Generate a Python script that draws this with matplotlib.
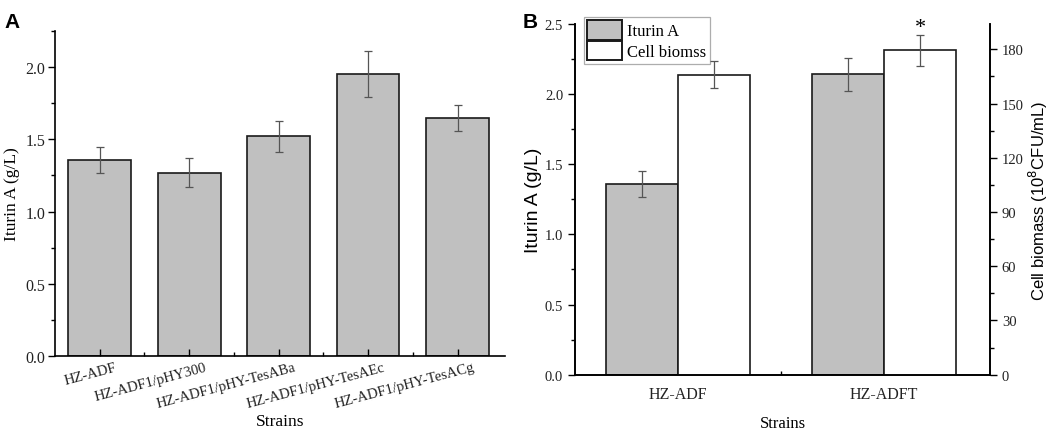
import matplotlib
matplotlib.use("Agg")
import matplotlib.pyplot as plt
import matplotlib.transforms as mtransforms
from matplotlib.ticker import MultipleLocator, FixedLocator
from matplotlib.patches import Patch
import numpy as np

# ---- data ----
strains_a = ["HZ-ADF", "HZ-ADF1/pHY300", "HZ-ADF1/pHY-TesABa",
             "HZ-ADF1/pHY-TesAEc", "HZ-ADF1/pHY-TesACg"]
iturin_a = [1.36, 1.27, 1.52, 1.95, 1.65]
iturin_a_err = [0.09, 0.10, 0.11, 0.16, 0.09]

strains_b = ["HZ-ADF", "HZ-ADFT"]
iturin_b = [1.36, 2.14]
iturin_b_err = [0.09, 0.12]
biomass_b = [166, 179.5]
biomass_b_err = [7.5, 8.5]

SERIF = "Liberation Serif"
SANS = "Liberation Sans"
GRAY = "#c0c0c0"

fig = plt.figure(figsize=(10.52, 4.31), dpi=100)

# ---------------- Panel A ----------------
axA = fig.add_axes([0.0523, 0.1717, 0.4277, 0.7541])
xa = np.arange(len(strains_a))
axA.bar(xa, iturin_a, width=0.7, color=GRAY, edgecolor="#1a1a1a", linewidth=1.2,
        yerr=iturin_a_err, error_kw=dict(ecolor="#555555", elinewidth=0.9, capsize=3, capthick=0.9))
axA.set_xlim(-0.5, 4.53)
axA.set_ylim(0, 2.25)
axA.spines["top"].set_visible(False)
axA.spines["right"].set_visible(False)
for s in axA.spines.values():
    s.set_linewidth(1.2)
axA.yaxis.set_major_locator(MultipleLocator(0.5))
axA.yaxis.set_minor_locator(MultipleLocator(0.25))
axA.yaxis.set_major_formatter(matplotlib.ticker.FormatStrFormatter("%.1f"))
axA.tick_params(axis="y", which="major", direction="out", length=5, width=1.0,
                labelsize=11.5, labelcolor="#222222", pad=2)
axA.tick_params(axis="y", which="minor", direction="out", length=3, width=1.0)
axA.set_xticks(xa)
axA.xaxis.set_minor_locator(FixedLocator(xa[:-1] + 0.5))
axA.tick_params(axis="x", which="major", direction="in", length=5, width=1.0, pad=3)
axA.tick_params(axis="x", which="minor", direction="in", length=3, width=1.0)
offset = mtransforms.ScaledTranslation(15 / 100, 0, fig.dpi_scale_trans)
axA.set_xticklabels(strains_a, rotation=15, ha="right", rotation_mode="anchor",
                    fontsize=10.5, family=SERIF, color="#222222")
for lab in axA.get_xticklabels():
    lab.set_transform(lab.get_transform() + offset)
for lab in axA.get_yticklabels():
    lab.set_family(SERIF)
axA.set_ylabel("Iturin A (g/L)", fontsize=12.5, family=SERIF)
axA.yaxis.set_label_coords(-0.078, 0.5)
axA.set_xlabel("Strains", fontsize=12.5, family=SERIF, labelpad=2)
fig.text(0.004, 0.97, "A", fontsize=15, fontweight="bold", family=SANS, va="top", ha="left")

# ---------------- Panel B ----------------
axB = fig.add_axes([0.5466, 0.1283, 0.3945, 0.8137])
axB2 = axB.twinx()
xb = np.arange(len(strains_b))
w = 0.35
axB.bar(xb - w / 2, iturin_b, width=w, color=GRAY, edgecolor="#1a1a1a", linewidth=1.2,
        yerr=iturin_b_err, error_kw=dict(ecolor="#555555", elinewidth=0.9, capsize=3, capthick=0.9),
        label="Iturin A", zorder=2)
axB2.bar(xb + w / 2, biomass_b, width=w, color="white", edgecolor="#1a1a1a", linewidth=1.2,
         yerr=biomass_b_err, error_kw=dict(ecolor="#555555", elinewidth=0.9, capsize=3, capthick=0.9),
         label="Cell biomss", zorder=2)
axB2.text(xb[1] + w / 2, biomass_b[1] + biomass_b_err[1] - 1, "*", ha="center", va="bottom",
          fontsize=16, family=SERIF)
axB.set_xlim(-0.5, 1.515)
axB.set_ylim(0, 2.5)
axB2.set_ylim(0, 194)
for a in (axB, axB2):
    a.spines["top"].set_visible(False)
    for s in a.spines.values():
        s.set_linewidth(1.2)
axB.yaxis.set_major_locator(MultipleLocator(0.5))
axB.yaxis.set_minor_locator(MultipleLocator(0.25))
axB.yaxis.set_major_formatter(matplotlib.ticker.FormatStrFormatter("%.1f"))
axB2.yaxis.set_major_locator(MultipleLocator(30))
axB2.yaxis.set_minor_locator(MultipleLocator(15))
axB.tick_params(axis="y", which="major", direction="out", length=5, width=1.0,
                labelsize=10.5, labelcolor="#222222")
axB.tick_params(axis="y", which="minor", direction="out", length=3, width=1.0)
axB2.tick_params(axis="y", which="major", direction="out", length=5, width=1.0,
                 labelsize=10.5, labelcolor="#222222")
axB2.tick_params(axis="y", which="minor", direction="out", length=3, width=1.0)
axB.set_xticks(xb)
axB.xaxis.set_minor_locator(FixedLocator([0.5]))
axB.tick_params(axis="x", which="major", direction="in", length=0, pad=8)
axB.tick_params(axis="x", which="minor", direction="in", length=3, width=1.0)
axB.set_xticklabels(strains_b, fontsize=11.5, family=SERIF, color="#222222")
for lab in axB.get_yticklabels() + axB2.get_yticklabels():
    lab.set_family(SERIF)
axB.set_ylabel("Iturin A (g/L)", fontsize=14, family=SANS)
axB.yaxis.set_label_coords(-0.0795, 0.5)
axB2.set_ylabel("Cell biomass (10$^{8}$CFU/mL)", fontsize=12, family=SANS)
axB2.yaxis.set_label_coords(1.088, 0.5)
axB.set_xlabel("Strains", fontsize=12, family=SERIF)
axB.xaxis.set_label_coords(0.5, -0.115)
handles = [Patch(facecolor=GRAY, edgecolor="#1a1a1a", linewidth=1.4, label="Iturin A"),
           Patch(facecolor="white", edgecolor="#1a1a1a", linewidth=1.4, label="Cell biomss")]
leg = axB.legend(handles=handles, loc="upper left", bbox_to_anchor=(0.022, 1.02),
                 prop={"family": SERIF, "size": 12}, frameon=True, fancybox=False,
                 edgecolor="#999999", handlelength=2.1, handleheight=1.4,
                 handletextpad=0.3, borderpad=0.2, labelspacing=0.1, borderaxespad=0)
leg.get_frame().set_linewidth(0.9)
fig.text(0.4965, 0.97, "B", fontsize=15, fontweight="bold", family=SANS, va="top", ha="left")

fig.savefig("out.png", dpi=100)
